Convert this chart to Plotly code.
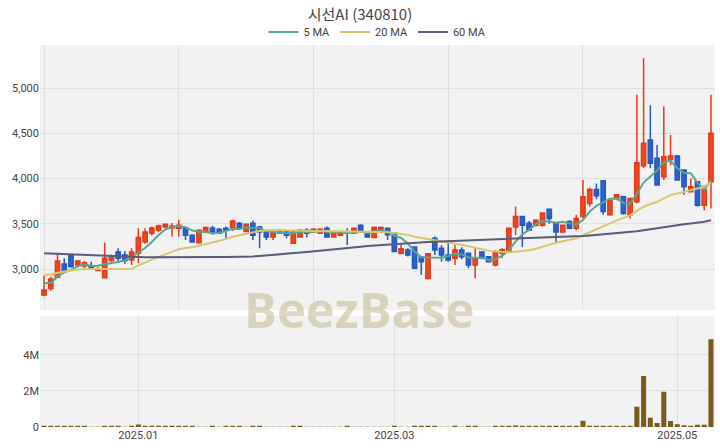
import plotly.graph_objects as go

dates = [
    "2024-12-10", "2024-12-11", "2024-12-12", "2024-12-13", "2024-12-16", "2024-12-17", "2024-12-18",
    "2024-12-19", "2024-12-20", "2024-12-23", "2024-12-24", "2024-12-26", "2024-12-27", "2024-12-30",
    "2025-01-02", "2025-01-03", "2025-01-06", "2025-01-07", "2025-01-08", "2025-01-09", "2025-01-10",
    "2025-01-13", "2025-01-14", "2025-01-15", "2025-01-16", "2025-01-17", "2025-01-20", "2025-01-21",
    "2025-01-22", "2025-01-23", "2025-01-24", "2025-01-31",
    "2025-02-03", "2025-02-04", "2025-02-05", "2025-02-06", "2025-02-07", "2025-02-10", "2025-02-11",
    "2025-02-12", "2025-02-13", "2025-02-14", "2025-02-17", "2025-02-18", "2025-02-19", "2025-02-20",
    "2025-02-21", "2025-02-24", "2025-02-25", "2025-02-26", "2025-02-27", "2025-02-28",
    "2025-03-04", "2025-03-05", "2025-03-06", "2025-03-07", "2025-03-10", "2025-03-11", "2025-03-12",
    "2025-03-13", "2025-03-14", "2025-03-17", "2025-03-18", "2025-03-19", "2025-03-20", "2025-03-21",
    "2025-03-24", "2025-03-25", "2025-03-26", "2025-03-27", "2025-03-28", "2025-03-31",
    "2025-04-01", "2025-04-02", "2025-04-03", "2025-04-04", "2025-04-07", "2025-04-08", "2025-04-09",
    "2025-04-10", "2025-04-11", "2025-04-14", "2025-04-15", "2025-04-16", "2025-04-17", "2025-04-18",
    "2025-04-21", "2025-04-22", "2025-04-23", "2025-04-24", "2025-04-25", "2025-04-28", "2025-04-29",
    "2025-04-30",
    "2025-05-02", "2025-05-07", "2025-05-08", "2025-05-09", "2025-05-12", "2025-05-13",
]

opens = [
    2715, 2785, 2910, 3055, 3155, 3045, 3035, 3025, 2985, 2905,
    3095, 3190, 3155, 3100, 3175, 3300, 3395, 3430, 3465, 3455,
    3450, 3450, 3375, 3290, 3410, 3455, 3440, 3450, 3460, 3505,
    3415, 3505, 3465, 3410, 3355, 3395, 3410, 3285, 3355, 3430,
    3410, 3395, 3450, 3355, 3375, 3410, 3395, 3485, 3410, 3350,
    3410, 3450, 3400, 3175, 3210, 3245, 3135, 2895, 3340, 3230,
    3155, 3120, 3210, 3175, 3045, 3190, 3135, 3045, 3175, 3190,
    3465, 3580, 3505, 3485, 3485, 3660, 3505, 3410, 3525, 3450,
    3580, 3725, 3880, 3975, 3600, 3780, 3800, 3600, 3745, 4140,
    4425, 4225, 4020, 4210, 4250, 4095, 3855, 3965, 3705, 3965,
]
highs = [
    2930, 2915, 3170, 3120, 3160, 3100, 3090, 3080, 3020, 3290,
    3160, 3230, 3200, 3230, 3450, 3450, 3470, 3490, 3500, 3510,
    3545, 3470, 3385, 3440, 3470, 3480, 3455, 3470, 3545, 3520,
    3505, 3535, 3480, 3425, 3420, 3445, 3430, 3420, 3440, 3450,
    3450, 3450, 3470, 3420, 3410, 3450, 3460, 3495, 3420, 3470,
    3470, 3460, 3410, 3265, 3230, 3250, 3140, 3175, 3360, 3265,
    3300, 3265, 3240, 3180, 3230, 3200, 3140, 3210, 3230, 3450,
    3690, 3580, 3530, 3550, 3625, 3670, 3520, 3490, 3540, 3600,
    3985, 3900, 3945, 3985, 3770, 3830, 3810, 3790, 4925, 5330,
    4810, 4370, 4795, 4480, 4260, 4100, 4000, 3970, 3930, 4925,
]
lows = [
    2700, 2760, 2900, 2955, 3020, 3030, 3010, 2990, 2975, 2900,
    3080, 3080, 3060, 3045, 3065, 3280, 3370, 3410, 3450, 3360,
    3360, 3320, 3300, 3280, 3400, 3380, 3390, 3340, 3420, 3440,
    3410, 3320, 3230, 3320, 3320, 3390, 3340, 3280, 3350, 3350,
    3405, 3390, 3350, 3350, 3370, 3265, 3390, 3410, 3350, 3340,
    3400, 3320, 3190, 3165, 3140, 3000, 2935, 2885, 3155, 3080,
    3080, 3045, 3110, 3010, 2900, 3110, 3075, 3030, 3120, 3185,
    3375, 3245, 3420, 3470, 3470, 3500, 3300, 3400, 3440, 3430,
    3560, 3690, 3770, 3600, 3590, 3760, 3600, 3560, 3725, 4115,
    4115, 3925, 3985, 4150, 3980, 3820, 3850, 3690, 3650, 3670,
]
closes = [
    2770, 2890, 3090, 2990, 3025, 3090, 3070, 3000, 3005, 3120,
    3145, 3120, 3095, 3190, 3350, 3410, 3455, 3475, 3495, 3475,
    3485, 3375, 3300, 3430, 3460, 3410, 3395, 3430, 3530, 3450,
    3495, 3375, 3410, 3355, 3410, 3430, 3375, 3410, 3430, 3395,
    3440, 3440, 3355, 3410, 3395, 3395, 3450, 3410, 3355, 3460,
    3460, 3380, 3195, 3225, 3155, 3010, 3080, 3170, 3210, 3155,
    3100, 3210, 3135, 3045, 3120, 3120, 3080, 3190, 3215, 3450,
    3580, 3485, 3430, 3540, 3620, 3560, 3410, 3485, 3450, 3560,
    3800, 3880, 3810, 3635, 3760, 3820, 3615, 3780, 4175, 4390,
    4170, 3930, 4240, 4250, 3985, 3910, 3910, 3705, 3875, 4500,
]
ma5 = [
    2845, 2850, 2915, 2965, 2990, 3030, 3053, 3035, 3038, 3057,
    3068, 3078, 3097, 3134, 3180, 3233, 3300, 3376, 3437, 3462,
    3477, 3461, 3426, 3413, 3410, 3395, 3399, 3425, 3445, 3443,
    3460, 3456, 3452, 3417, 3409, 3396, 3396, 3396, 3411, 3408,
    3410, 3423, 3412, 3408, 3408, 3399, 3401, 3412, 3401, 3414,
    3427, 3413, 3370, 3344, 3283, 3193, 3133, 3128, 3125, 3125,
    3143, 3169, 3162, 3129, 3122, 3126, 3100, 3111, 3145, 3211,
    3303, 3384, 3432, 3497, 3531, 3527, 3512, 3523, 3505, 3493,
    3541, 3635, 3700, 3737, 3777, 3781, 3728, 3722, 3830, 3956,
    4026, 4089, 4181, 4196, 4115, 4063, 4059, 3952, 3877, 3980,
]
ma20 = [
    2935, 2940, 2960, 2975, 2985, 2995, 3000, 3000, 3000, 3000,
    3000, 3000, 3000, 3005, 3040, 3075, 3105, 3135, 3165, 3195,
    3220, 3232, 3240, 3258, 3277, 3293, 3310, 3331, 3357, 3374,
    3391, 3404, 3420, 3428, 3431, 3432, 3428, 3425, 3422, 3418,
    3415, 3419, 3421, 3420, 3417, 3416, 3419, 3418, 3409, 3410,
    3408, 3408, 3398, 3391, 3378, 3357, 3343, 3331, 3320, 3308,
    3291, 3279, 3268, 3250, 3236, 3222, 3204, 3193, 3186, 3185,
    3191, 3197, 3208, 3224, 3247, 3275, 3291, 3307, 3319, 3339,
    3374, 3408, 3442, 3471, 3503, 3538, 3565, 3594, 3642, 3689,
    3719, 3741, 3782, 3817, 3835, 3853, 3878, 3889, 3910, 3957,
]
ma60 = [
    3175, 3172, 3168, 3164, 3160, 3156, 3152, 3148, 3144, 3140,
    3137, 3134, 3132, 3130, 3130, 3130, 3131, 3132, 3133, 3134,
    3135, 3136, 3136, 3136, 3136, 3135, 3134, 3133, 3133, 3134,
    3136, 3140, 3145, 3150, 3156, 3162, 3168, 3175, 3182, 3190,
    3198, 3205, 3212, 3220, 3227, 3234, 3240, 3247, 3254, 3260,
    3266, 3272, 3278, 3283, 3288, 3292, 3296, 3300, 3303, 3306,
    3308, 3310, 3312, 3314, 3316, 3318, 3320, 3322, 3325, 3328,
    3331, 3334, 3337, 3340, 3343, 3346, 3349, 3352, 3356, 3360,
    3366, 3372, 3378, 3384, 3390, 3396, 3402, 3408, 3418, 3430,
    3442, 3452, 3463, 3474, 3484, 3494, 3503, 3511, 3522, 3540,
]
volumes = [
    25000, 20000, 30000, 15000, 12000, 10000, 15000, 8000, 6000, 20000,
    12000, 10000, 8000, 15000, 140000, 40000, 25000, 15000, 12000, 10000,
    15000, 12000, 10000, 8000, 7000, 12000, 9000, 10000, 15000, 10000,
    8000, 12000, 15000, 9000, 7000, 8000, 9000, 14000, 10000, 8000,
    7000, 9000, 8000, 6000, 7000, 10000, 6000, 8000, 7000, 9000,
    8000, 7000, 12000, 8000, 9000, 14000, 12000, 15000, 10000, 8000,
    9000, 10000, 8000, 12000, 20000, 9000, 8000, 15000, 30000, 60000,
    80000, 20000, 12000, 15000, 18000, 20000, 15000, 10000, 12000, 20000,
    350000, 40000, 20000, 35000, 15000, 10000, 60000, 30000, 1120000, 2820000,
    510000, 220000, 1950000, 330000, 150000, 100000, 60000, 130000, 120000, 4850000,
]

month_ticks = ["2025-01-02", "2025-03-04", "2025-05-02"]
month_labels = ["2025.01", "2025.03", "2025.05"]

FONT = "Roboto, 'Noto Sans CJK KR', sans-serif"
GRID = "#e0e0e0"

fig = go.Figure()
fig.add_trace(go.Candlestick(
    x=dates, open=opens, high=highs, low=lows, close=closes,
    increasing=dict(line=dict(color="#e5391b", width=1.5), fillcolor="#eb4a20"),
    decreasing=dict(line=dict(color="#2458c4", width=1.5), fillcolor="#2b62cc"),
    whiskerwidth=0, showlegend=False, hoverinfo="skip", xaxis="x", yaxis="y",
))
for name, vals, col in [("5 MA", ma5, "#5ba58e"), ("20 MA", ma20, "#d9c66c"), ("60 MA", ma60, "#545d7a")]:
    fig.add_trace(go.Scatter(x=dates, y=vals, mode="lines", name=name,
                             line=dict(color=col, width=2), xaxis="x", yaxis="y", hoverinfo="skip"))
fig.add_trace(go.Bar(x=dates, y=volumes, marker=dict(color="#7a5b1d", line=dict(width=0)),
                     showlegend=False, xaxis="x2", yaxis="y2", hoverinfo="skip"))

fig.update_layout(
    width=720, height=448,
    margin=dict(l=40, r=5, t=45, b=21, autoexpand=False),
    paper_bgcolor="white", plot_bgcolor="#f2f2f2",
    font=dict(family=FONT, size=11, color="#444"),
    title=dict(text="시선AI (340810)", x=0.5, xanchor="center", y=0.968, yanchor="middle",
               font=dict(family="'Noto Sans CJK KR', sans-serif", size=15, color="#444")),
    legend=dict(orientation="h", x=0.5, xanchor="center", y=1.034, yanchor="middle",
                font=dict(size=11, color="#444"), bgcolor="rgba(0,0,0,0)"),
    bargap=0.25,
    boxgap=0.1,
    xaxis=dict(domain=[0, 1], anchor="y", type="category", range=[-0.6, 99.6], automargin=False,
               tickvals=dates[::20], showticklabels=False, showgrid=True, gridcolor=GRID,
               rangeslider=dict(visible=False), zeroline=False, showline=False),
    yaxis=dict(domain=[0.306, 1], anchor="x", range=[2547, 5475], dtick=500, tick0=3000,
               tickformat=",", showgrid=True, gridcolor=GRID, zeroline=False, automargin=False,
               tickfont=dict(size=11, color="#444")),
    xaxis2=dict(domain=[0, 1], anchor="y2", type="category", range=[-0.6, 99.6], automargin=False,
                tickvals=month_ticks, ticktext=month_labels, showgrid=True, gridcolor=GRID,
                zeroline=False, showline=False, tickfont=dict(size=11, color="#444")),
    yaxis2=dict(domain=[0, 0.291], anchor="x2", range=[0, 6.15e6], tickvals=[0, 2e6, 4e6],
                tickformat="~s", showgrid=True, gridcolor=GRID, zeroline=False, automargin=False,
                tickfont=dict(size=11, color="#444")),
    annotations=[dict(text="<b>BeezBase</b>", x=0.474, y=0.31, xref="paper", yref="paper",
                      xanchor="center", yanchor="middle", showarrow=False,
                      font=dict(family="'Open Sans', sans-serif", size=49, color="rgba(196,184,140,0.55)"))],
)

fig.write_html("out.html", config={"displayModeBar": False},
               post_script="document.body.style.margin='0px';")
